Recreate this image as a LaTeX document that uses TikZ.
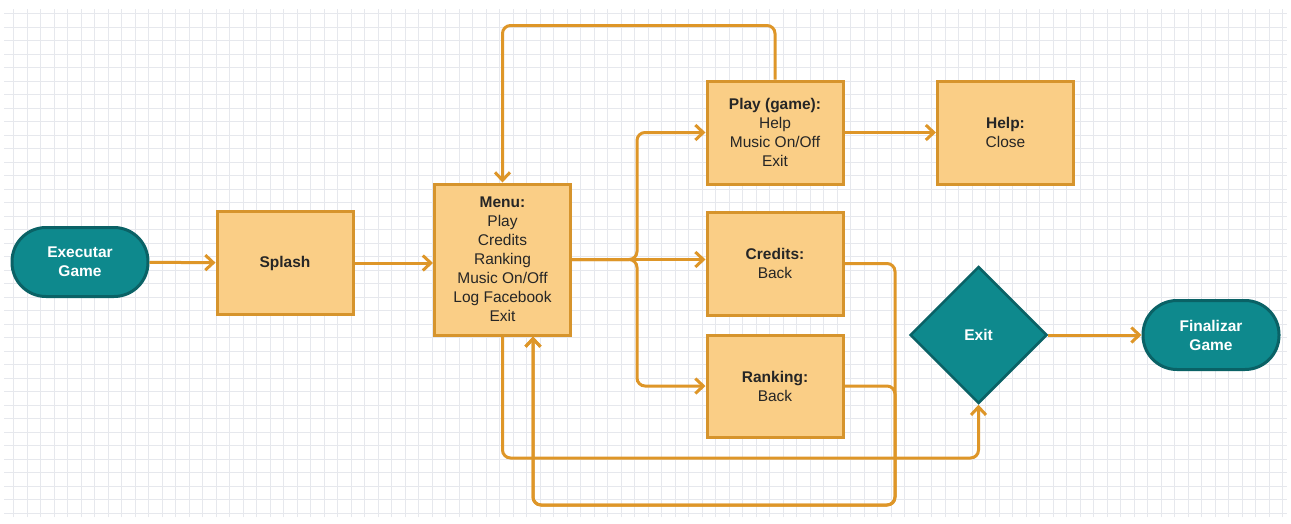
\documentclass[tikz,border=0pt]{standalone}
\usepackage{fontspec}
\setmainfont{Liberation Sans}
\usetikzlibrary{shapes.geometric,arrows.meta}
\definecolor{boxfill}{RGB}{250,206,134}
\definecolor{boxdraw}{RGB}{214,148,44}
\definecolor{flowline}{RGB}{222,150,40}
\definecolor{tealfill}{RGB}{14,137,141}
\definecolor{tealdraw}{RGB}{10,98,102}
\definecolor{gridgray}{RGB}{230,232,237}
\tikzset{
    proc/.style={rectangle, draw=boxdraw, fill=boxfill, line width=3pt, minimum width=136pt, minimum height=103pt, align=center, text=black!85, font=\fontsize{15.5}{19}\selectfont},
    term/.style={rectangle, rounded corners=34pt, draw=tealdraw, fill=tealfill, line width=3pt, minimum width=136pt, minimum height=69pt, align=center, text=white, font=\fontsize{15.5}{19}\selectfont\bfseries},
    decis/.style={diamond, aspect=1, inner sep=0pt, draw=tealdraw, fill=tealfill, line width=2.5pt, minimum width=137pt, minimum height=137pt, text=white, font=\fontsize{15.5}{19}\selectfont\bfseries},
    flow/.style={draw=flowline, line width=3pt, rounded corners=8pt, -{Straight Barb[length=8pt,width=15pt,line width=3pt]}},
}
\begin{document}
\begin{tikzpicture}[x=1pt, y=-1pt]
    \useasboundingbox (0,0) rectangle (1291,523);
    \fill[white] (0,0) rectangle (1291,523);
    \draw[gridgray, line width=0.8pt, step=13.5pt] (4,9) grid (1287,517);

    % terminals and steps
    \node[term] (start) at (80, 262) {Executar\\Game};
    \node[proc] (splash) at (285, 263) {\textbf{Splash}};
    \node[proc, minimum height=151pt] (menu) at (502.5, 259.5) {\textbf{Menu:}\\Play\\Credits\\Ranking\\Music On/Off\\Log Facebook\\Exit};
    \node[proc] (play) at (775, 132.5) {\textbf{Play (game):}\\Help\\Music On/Off\\Exit};
    \node[proc] (help) at (1005.5, 132.5) {\textbf{Help:}\\Close};
    \node[proc] (credits) at (775, 263.5) {\textbf{Credits:}\\Back};
    \node[proc, minimum height=102pt] (ranking) at (775, 386) {\textbf{Ranking:}\\Back};
    \node[decis] (exit) at (978.5, 335) {Exit};
    \node[term] (end) at (1211, 335) {Finalizar\\Game};

    % turning points
    \coordinate (fork) at (637, 259.5);
    \coordinate (backrail) at (895, 505);
    \coordinate (lowrail) at (700, 458);

    % connectors
    \draw[flow] (start) -- (splash);
    \draw[flow] (splash.east) -- (splash.east -| menu.west);
    \draw[flow] (menu.east) -- (menu.east -| credits.west);
    \draw[flow] (menu.east) -- (fork) |- (play.west);
    \draw[flow] (menu.east) -- (fork) |- (ranking.west);
    \draw[flow] (play.east) -- (help.west);
    \draw[flow] (play.north) -- ++(0,-54) -| (menu.north);
    \draw[flow] (credits.east) -| (backrail) -| ([xshift=30.5pt]menu.south);
    \draw[flow] (ranking.east) -| (backrail) -| ([xshift=30.5pt]menu.south);
    \draw[flow] (menu.south) |- (lowrail) -| (exit.south);
    \draw[flow] (exit) -- (end);
\end{tikzpicture}
\end{document}
